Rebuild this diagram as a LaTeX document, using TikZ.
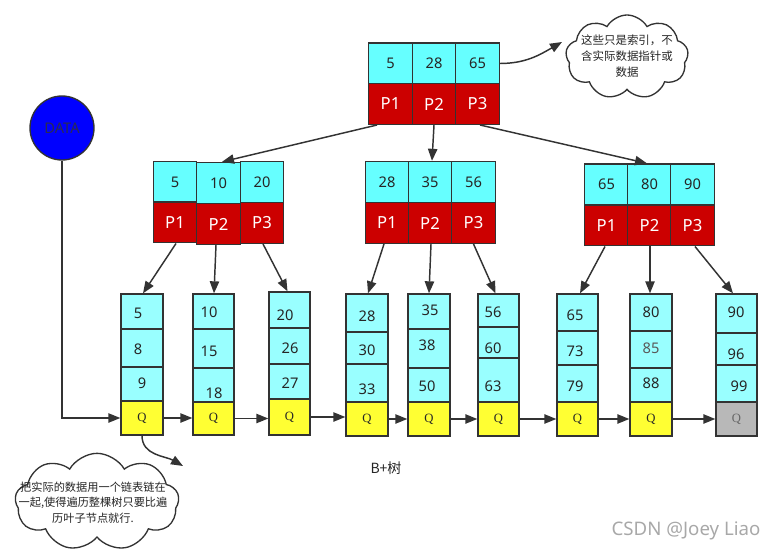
\documentclass[tikz,border=0pt]{standalone}
\usepackage{fontspec}
\setmainfont{Noto Sans CJK SC}
\newfontfamily\qfont{Liberation Serif}
\newfontfamily\lat{Noto Sans}
\usetikzlibrary{shapes.symbols,arrows.meta,calc}
\definecolor{lc}{HTML}{333333}
\definecolor{cyTop}{HTML}{66FFFF}
\definecolor{cyLeaf}{HTML}{99FFFF}
\definecolor{redA}{HTML}{CC0000}
\definecolor{yel}{HTML}{FFFF33}
\definecolor{grayQ}{HTML}{B8B8B8}
\definecolor{blueA}{HTML}{0000FF}
\definecolor{wm}{HTML}{A8A8A8}
\tikzset{
 ln/.style={draw=lc, line width=1pt},
 arr/.style={draw=lc, line width=1.1pt, -{Triangle[length=9pt,width=7pt]}},
 topc/.style={ln, fill=cyTop, minimum width=32.6pt, minimum height=30.75pt, inner sep=0pt, font=\lat\fontsize{11}{13}\selectfont, text=black!85},
 redc/.style={ln, fill=redA, minimum width=32.6pt, minimum height=30.5pt, inner sep=0pt, font=\lat\fontsize{12.5}{14}\selectfont, text=white},
 leafc/.style={ln, fill=cyLeaf, inner sep=0pt},
 qc/.style={ln, fill=yel, inner sep=0pt, font=\qfont\fontsize{9.5}{11}\selectfont, text=black!85},
 qg/.style={qc, fill=grayQ, text=black!60},
 num/.style={font=\lat\fontsize{11}{13}\selectfont, inner sep=0pt, text=black!85},
 cloudc/.style={cloud, cloud puffs=9, cloud puff arc=120, cloud ignores aspect, draw=lc, line width=1pt, fill=white, inner sep=0pt},
 ctext/.style={align=center, inner sep=0pt, text=black!85},
}
\newcommand\lcell[6]{\node[#1, minimum width={(#4-#3)*0.75pt}, minimum height={(#6-#5)*0.75pt}] (#2) at ({(#3+#4)/2},{(#5+#6)/2}) {};}
\newcommand\qcell[6]{\node[#1, minimum width={(#4-#3)*0.75pt}, minimum height={(#6-#5)*0.75pt}] (#2) at ({(#3+#4)/2},{(#5+#6)/2}) {Q};}
\begin{document}
\begin{tikzpicture}[x=0.75pt,y=-0.75pt]
\useasboundingbox (0,0) rectangle (778,552);
% top node
\node[topc] (t1) at (390.5,63.5) {5};
\node[topc] (t2) at (434,63.5) {28};
\node[topc] (t3) at (477.5,63.5) {65};
\node[redc] (tp1) at (390.5,104) {P1};
\node[redc] (tp2) at (434,104) {P2};
\node[redc] (tp3) at (477.5,104) {P3};
% left L2
\node[topc] (la1) at (175,182) {5};
\node[topc] (la2) at (218.5,183) {10};
\node[topc] (la3) at (262,182) {20};
\node[redc] (lp1) at (175,222.5) {P1};
\node[redc] (lp2) at (218.5,224) {P2};
\node[redc] (lp3) at (262,223) {P3};
% middle L2
\node[topc] (ma1) at (387,182) {28};
\node[topc] (ma2) at (430,182) {35};
\node[topc] (ma3) at (473.5,182) {56};
\node[redc] (mp1) at (387,223) {P1};
\node[redc] (mp2) at (430,223) {P2};
\node[redc] (mp3) at (473.5,223) {P3};
% right L2
\node[topc] (ra1) at (606.5,184.5) {65};
\node[topc] (ra2) at (649.5,184.5) {80};
\node[topc] (ra3) at (692.5,184.5) {90};
\node[redc] (rp1) at (606.5,225.5) {P1};
\node[redc] (rp2) at (649.5,225.5) {P2};
\node[redc] (rp3) at (692.5,225.5) {P3};
% leaves
\lcell{leafc}{l1a}{121}{163}{294}{329}\lcell{leafc}{l1b}{121}{163}{329}{367}\lcell{leafc}{l1c}{121}{163}{367}{401}\qcell{qc}{q1}{121}{163}{401}{435}
\lcell{leafc}{l2a}{193}{234}{294}{329}\lcell{leafc}{l2b}{193}{234}{329}{368}\lcell{leafc}{l2c}{193}{234}{368}{402}\qcell{qc}{q2}{193}{234}{402}{435}
\lcell{leafc}{l3a}{269}{310}{292}{328}\lcell{leafc}{l3b}{269}{310}{328}{364}\lcell{leafc}{l3c}{269}{310}{364}{399}\qcell{qc}{q3}{269}{310}{399}{435}
\lcell{leafc}{l4a}{346}{388}{294}{332}\lcell{leafc}{l4b}{346}{388}{332}{364}\lcell{leafc}{l4c}{346}{388}{364}{402}\qcell{qc}{q4}{346}{388}{402}{436}
\lcell{leafc}{l5a}{408}{450}{294}{329}\lcell{leafc}{l5b}{408}{450}{329}{368}\lcell{leafc}{l5c}{408}{450}{368}{402}\qcell{qc}{q5}{408}{450}{402}{436}
\lcell{leafc}{l6a}{478}{519}{294}{327}\lcell{leafc}{l6b}{478}{519}{327}{358}\lcell{leafc}{l6c}{478}{519}{358}{402}\qcell{qc}{q6}{478}{519}{402}{436}
\lcell{leafc}{l7a}{557}{598}{294}{331}\lcell{leafc}{l7b}{557}{598}{331}{365}\lcell{leafc}{l7c}{557}{598}{365}{402}\qcell{qc}{q7}{557}{598}{402}{436}
\lcell{leafc}{l8a}{630}{672}{294}{331}\lcell{leafc}{l8b}{630}{672}{331}{368}\lcell{leafc}{l8c}{630}{672}{368}{402}\qcell{qc}{q8}{630}{672}{402}{436}
\lcell{leafc}{l9a}{716}{757}{294}{333}\lcell{leafc}{l9b}{716}{757}{333}{365}\lcell{leafc}{l9c}{716}{757}{365}{402}\qcell{qg}{q9}{716}{757}{402}{436}
% leaf numbers
\node[num] (n1a) at (138,313) {5};  \node[num] (n1b) at (138,349) {8};  \node[num] (n1c) at (142,383) {9};
\node[num] (n2a) at (209,312) {10}; \node[num] (n2b) at (209,351) {15}; \node[num] (n2c) at (214,393) {18};
\node[num] (n3a) at (285,315) {20}; \node[num] (n3b) at (290,348) {26}; \node[num] (n3c) at (290,383) {27};
\node[num] (n4a) at (367,316) {28}; \node[num] (n4b) at (367,350) {30}; \node[num] (n4c) at (367,389) {33};
\node[num] (n5a) at (430,310) {35}; \node[num] (n5b) at (427,345) {38}; \node[num] (n5c) at (427,386) {50};
\node[num] (n6a) at (493,312) {56}; \node[num] (n6b) at (493,348) {60}; \node[num] (n6c) at (493,386) {63};
\node[num] (n7a) at (575,315) {65}; \node[num] (n7b) at (575,351) {73}; \node[num] (n7c) at (575,386) {79};
\node[num] (n8a) at (651,312) {80}; \node[num, text=black!65] (n8b) at (651,348) {85}; \node[num] (n8c) at (651,383) {88};
\node[num] (n9a) at (736,312) {90}; \node[num] (n9b) at (736,354) {96}; \node[num] (n9c) at (739,386) {99};
% top -> L2
\draw[arr] ($(tp1.south)+(-13.5,0)$) -- ($(la2.north)+(3.5,0)$);
\draw[arr] (tp2.south) -- ($(ma2.north)+(2,0)$);
\draw[arr] ($(tp3.south)+(2.5,0)$) -- ($(ra2.north)+(-2.5,0)$);
% L2 -> leaves
\draw[arr] ($(lp1.south)+(1,0)$) -- ($(l1a.north)+(1,0)$);
\draw[arr] ($(lp2.south)+(-2.5,0)$) -- ($(l2a.north)+(0.5,0)$);
\draw[arr] ($(lp3.south)+(1,0)$) -- ($(l3a.north)+(-2,0)$);
\draw[arr] ($(mp1.south)+(-3,0)$) -- ($(l4a.north)+(1,0)$);
\draw[arr] ($(mp2.south)+(1,0)$) -- ($(l5a.north)+(0,0)$);
\draw[arr] (mp3.south) -- ($(l6a.north)+(-3,0)$);
\draw[arr] ($(rp1.south)+(-1.5,0)$) -- ($(l7a.north)+(2.5,0)$);
\draw[arr] ($(rp2.south)+(0.5,0)$) -- ($(l8a.north)+(-1,0)$);
\draw[arr] ($(rp3.south)+(2.5,0)$) -- ($(l9a.north)+(-3.5,0)$);
% linked list
\draw[arr] (q1.east) -- (q1.east -| q2.west);
\draw[arr] (q2.east) -- (q2.east -| q3.west);
\draw[arr] (q3.east) -- (q3.east -| q4.west);
\draw[arr] (q4.east) -- (q4.east -| q5.west);
\draw[arr] (q5.east) -- (q5.east -| q6.west);
\draw[arr] (q6.east) -- (q6.east -| q7.west);
\draw[arr] (q7.east) -- (q7.east -| q8.west);
\draw[arr] (q8.east) -- (q8.east -| q9.west);
% DATA
\node[circle, draw=lc, line width=1pt, fill=blueA, minimum size=48pt, inner sep=0pt, font=\lat\fontsize{11}{13}\selectfont, text=lc!85!blue] (data) at (62,128) {DATA};
\draw[arr] (data.south) |- (q1.west);
% clouds
\node[cloudc, minimum width=92pt, minimum height=63pt] (c1) at (627,57) {};
\node[ctext, font=\fontsize{8.6}{12}\selectfont] (c1t) at (627,56.5) {这些只是索引，不\\含实际数据指针或\\数据};
\coordinate (c1in) at (562,42);
\draw[arr] (t3.east) to[out=0,in=-150] (c1in);
\node[cloudc, minimum width=123pt, minimum height=73pt] (c2) at (97,502) {};
\node[ctext, font=\fontsize{8.4}{11.6}\selectfont] (c2t) at (93,502.5) {把实际的数据用一个链表链在\\一起,使得遍历整棵树只要比遍\\历叶子节点就行.};
\coordinate (c2in) at (183,466);
\draw[arr] (q1.south) to[out=-90,in=150] (c2in);
% captions
\node[font=\fontsize{10.5}{12}\selectfont, inner sep=0pt, text=black!85] (cap) at (386,468) {B+树};
\node[font=\lat\fontsize{14}{16}\selectfont, inner sep=0pt, text=wm] (wmk) at (686,531) {CSDN @Joey Liao};
\end{tikzpicture}
\end{document}
